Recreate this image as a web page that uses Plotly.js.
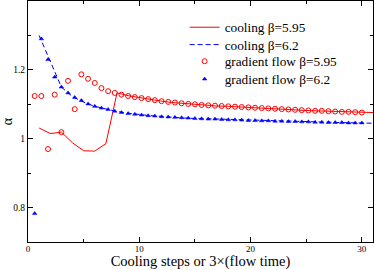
<!DOCTYPE html>
<html><head><meta charset="utf-8">
<script src="https://cdn.plot.ly/plotly-3.0.1.min.js"></script>
<style>html,body{margin:0;padding:0;background:#fff}</style>
</head><body><div id="plot" style="width:374px;height:270px"></div>
<script>
var coolX = [1,2,3,4,5,6,7,8,9,10,11,12,13,14,15,16,17,18,19,20,21,22,23,24,25,26,27,28,29,30,31];
var cool595 = [1.031,1.015,1.019,0.988,0.965,0.964,0.986,1.133,1.125,1.119,1.113,1.109,1.105,1.102,1.100,1.097,1.095,1.094,1.092,1.090,1.089,1.087,1.086,1.084,1.082,1.081,1.080,1.079,1.078,1.077,1.076];
var cool62 = [1.300,1.225,1.150,1.122,1.106,1.094,1.086,1.079,1.074,1.070,1.067,1.065,1.062,1.060,1.059,1.058,1.057,1.055,1.054,1.053,1.052,1.051,1.051,1.050,1.049,1.048,1.048,1.047,1.047,1.046,1.045];
var flowX = [0.6,1.2,1.8,2.4,3.0,3.6,4.2,4.8,5.4,6.0,6.6,7.2,7.8,8.4,9.0,9.6,10.2,10.8,11.4,12.0,12.6,13.2,13.8,14.4,15.0,15.6,16.2,16.8,17.4,18.0,18.6,19.2,19.8,20.4,21.0,21.6,22.2,22.8,23.4,24.0,24.6,25.2,25.8,26.4,27.0,27.6,28.2,28.8,29.4,30.0];
var flow595 = [1.124,1.124,0.970,1.128,1.019,1.168,1.086,1.187,1.174,1.162,1.147,1.138,1.133,1.128,1.124,1.121,1.118,1.115,1.112,1.109,1.107,1.105,1.103,1.101,1.100,1.098,1.097,1.096,1.095,1.094,1.093,1.092,1.091,1.090,1.089,1.088,1.087,1.086,1.085,1.084,1.083,1.082,1.081,1.081,1.080,1.079,1.078,1.078,1.077,1.076];
var flow62 = [0.783,1.290,1.230,1.179,1.150,1.133,1.120,1.111,1.101,1.094,1.089,1.085,1.080,1.076,1.073,1.071,1.069,1.067,1.066,1.064,1.063,1.062,1.061,1.060,1.059,1.058,1.057,1.057,1.056,1.055,1.055,1.054,1.053,1.053,1.052,1.052,1.051,1.051,1.050,1.050,1.049,1.049,1.048,1.048,1.047,1.047,1.047,1.046,1.046,1.046];
var xTicks = [0,10,20,30];
var yTicks = [0.8,1,1.2];

var serif = 'Liberation Serif, Times New Roman, serif';
var traces = [
  {x: coolX, y: cool595, type:'scatter', mode:'lines', name:'cooling β=5.95', legend:'legend',
   line:{color:'#ff0000', width:1}},
  {x: coolX, y: cool62, type:'scatter', mode:'lines', name:'cooling β=6.2', legend:'legend2',
   line:{color:'#0000ff', width:1, dash:'5px,3px'}},
  {x: flowX, y: flow595, type:'scatter', mode:'markers', name:'gradient flow β=5.95', legend:'legend3',
   marker:{symbol:'circle-open', size:5, color:'#ff0000', line:{width:1}}},
  {x: flowX, y: flow62, type:'scatter', mode:'markers', name:'gradient flow β=6.2', legend:'legend4',
   marker:{symbol:'triangle-up', size:4, color:'#0000ff', line:{width:0.5,color:'#0000ff'}}}
];
function leg(y){return {x:0.454, y:y, xanchor:'left', yanchor:'top', bgcolor:'rgba(0,0,0,0)',
    font:{family:serif, size:13.3, color:'#000'}, itemwidth:30};}
var axisCommon = {showline:true, linecolor:'#000', linewidth:1, mirror:'ticks', ticks:'inside',
  ticklen:5, tickcolor:'#000', showgrid:false, zeroline:false,
  tickfont:{family:serif, size:9.5, color:'#000'}};
var layout = {
  width:374, height:270, margin:{l:28, r:1, t:1, b:28},
  paper_bgcolor:'#fff', plot_bgcolor:'#fff', showlegend:true,
  xaxis: Object.assign({}, axisCommon, {range:[0,31], tickmode:'array', tickvals:xTicks,
    tickfont:{family:serif, size:9, color:'#000'}, ticklabelstandoff:-2,
    minor:{tickmode:'array', tickvals:[5,15,25], ticks:'inside', ticklen:3, tickcolor:'#000'},
    title:{text:'Cooling steps or 3×(flow time)', font:{family:serif, size:14.5, color:'#000'}, standoff:2}}),
  yaxis: Object.assign({}, axisCommon, {range:[0.7,1.4], tickmode:'array', tickvals:yTicks,
    minor:{tickmode:'array', tickvals:[0.9,1.1,1.3], ticks:'inside', ticklen:3, tickcolor:'#000'},
    title:{text:'α', font:{family:serif, size:14, color:'#000'}, standoff:6}}),
  legend: leg(0.954), legend2: leg(0.882), legend3: leg(0.813), legend4: leg(0.739)
};
Plotly.newPlot('plot', traces, layout, {displayModeBar:false, staticPlot:true});
</script></body></html>
